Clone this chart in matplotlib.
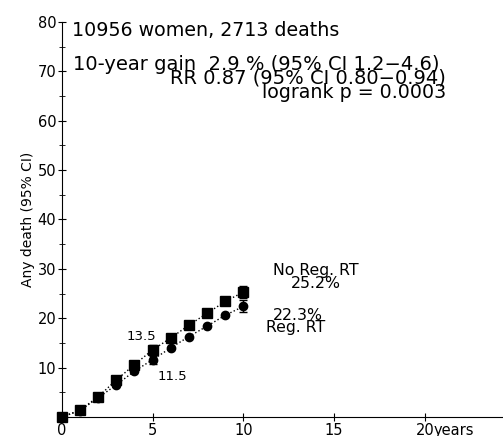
import numpy as np
import matplotlib.pyplot as plt

plt.rcParams['font.family'] = ['DejaVu Sans']

years = [0, 1, 2, 3, 4, 5, 6, 7, 8, 9, 10]
no_reg_rt = [0, 1.4, 4.1, 7.5, 10.6, 13.6, 16.0, 18.6, 21.0, 23.4, 25.3]
reg_rt = [0, 1.3, 3.9, 6.5, 9.3, 11.6, 14.0, 16.3, 18.4, 20.6, 22.4]
# 95% CI at the 5 and 10 year points
ci_years = [5, 10]
no_reg_ci = [0.9, 1.3]
reg_ci = [0.8, 1.2]

fig = plt.figure(figsize=(5.03, 4.36), dpi=100)
ax = fig.add_axes([0.123, 0.0436, 0.877, 0.906])

ax.plot(years, no_reg_rt, color='black', linestyle=':', linewidth=1,
        marker='s', markersize=6.5, clip_on=False, zorder=3)
ax.plot(years, reg_rt, color='black', linestyle=':', linewidth=1,
        marker='o', markersize=6, clip_on=False, zorder=3)
ax.errorbar(ci_years, [no_reg_rt[5], no_reg_rt[10]], yerr=no_reg_ci, fmt='none',
            ecolor='black', elinewidth=1, capsize=3)
ax.errorbar(ci_years, [reg_rt[5], reg_rt[10]], yerr=reg_ci, fmt='none',
            ecolor='black', elinewidth=1, capsize=3)

ax.set_xlim(0, 24.3)
ax.set_ylim(0, 80)
ax.spines['top'].set_visible(False)
ax.spines['right'].set_visible(False)
ax.set_xticks([0, 5, 10, 15, 20])
ax.set_yticks([10, 20, 30, 40, 50, 60, 70, 80])
ax.set_yticks([5, 15, 25, 35, 45, 55, 65, 75], minor=True)
ax.tick_params(axis='both', which='major', direction='inout', length=6, labelsize=10.5, pad=1)
ax.tick_params(axis='y', which='minor', direction='inout', length=4)
ax.set_ylabel('Any death (95% CI)', fontsize=10, labelpad=2)
ax.annotate('years', xy=(20.5, 0), xycoords=ax.get_xaxis_transform(),
            xytext=(0, -4), textcoords='offset points', fontsize=10.5, ha='left', va='top')

ax.text(0.55, 77.1, '10956 women, 2713 deaths', fontsize=13.7, ha='left', va='baseline')
ax.text(0.6, 70.3, '10-year gain  2.9 % (95% CI 1.2\u22124.6)', fontsize=14,
        ha='left', va='baseline')
ax.text(21.15, 67.6, 'RR 0.87 (95% CI 0.80\u22120.94)', fontsize=14, ha='right', va='baseline')
ax.text(21.15, 64.7, 'logrank p = 0.0003', fontsize=13.7, ha='right', va='baseline')

ax.text(4.36, 15.6, '13.5', fontsize=9.5, ha='center', va='baseline')
ax.text(6.08, 7.5, '11.5', fontsize=9.5, ha='center', va='baseline')
ax.text(14.0, 28.7, 'No Reg. RT', fontsize=11.3, ha='center', va='baseline')
ax.text(14.0, 26.1, '25.2%', fontsize=11.3, ha='center', va='baseline')
ax.text(13.0, 19.6, '22.3%', fontsize=11.3, ha='center', va='baseline')
ax.text(12.9, 17.2, 'Reg. RT', fontsize=11.3, ha='center', va='baseline')

fig.savefig('out.png', dpi=100)
